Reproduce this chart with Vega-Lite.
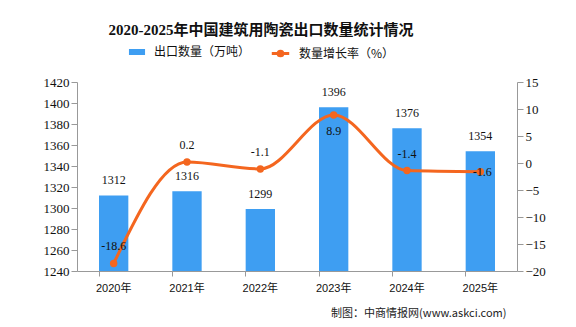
{
  "$schema": "https://vega.github.io/schema/vega-lite/v6.json",
  "width": 440,
  "height": 189,
  "autosize": {"type": "none"},
  "padding": {"left": 77, "top": 82, "right": 59, "bottom": 56},
  "background": "white",
  "config": {
    "view": {"stroke": null},
    "font": "Liberation Serif, Noto Sans CJK SC",
    "axis": {"grid": false, "domainColor": "#999999", "tickColor": "#999999", "labelColor": "#111111", "labelFont": "Liberation Serif, Noto Sans CJK SC"}
  },
  "title": {
    "text": "2020-2025年中国建筑用陶瓷出口数量统计情况",
    "font": "Liberation Serif, Noto Sans CJK SC",
    "fontSize": 15,
    "fontWeight": "bold",
    "color": "#111111",
    "anchor": "middle",
    "frame": "group",
    "dx": -36,
    "offset": 7
  },
  "data": {
    "values": [
      {"year": "2020年", "qty": 1312, "growth": -18.6},
      {"year": "2021年", "qty": 1316, "growth": 0.2},
      {"year": "2022年", "qty": 1299, "growth": -1.1},
      {"year": "2023年", "qty": 1396, "growth": 8.9},
      {"year": "2024年", "qty": 1376, "growth": -1.4},
      {"year": "2025年", "qty": 1354, "growth": -1.6}
    ]
  },
  "encoding": {
    "x": {
      "field": "year", "type": "nominal", "sort": null,
      "scale": {"paddingInner": 0.6, "paddingOuter": 0.3},
      "axis": {
        "labelAngle": 0, "labelFont": "Liberation Sans, Noto Sans CJK SC", "labelFontSize": 11,
        "labelPadding": 6, "tickSize": 5, "bandPosition": 0,
        "title": "制图：中商情报网(www.askci.com)",
        "titleFont": "Noto Sans CJK SC", "titleFontWeight": "normal", "titleFontSize": 11,
        "titleColor": "#222222", "titleAnchor": "end", "titleAlign": "right", "titlePadding": 14, "titleX": 429
      }
    }
  },
  "layer": [
    {
      "encoding": {
        "y": {
          "field": "qty", "type": "quantitative",
          "scale": {"domain": [1240, 1420], "zero": false, "nice": false},
          "axis": {"values": [1240,1260,1280,1300,1320,1340,1360,1380,1400,1420], "format": "d", "title": null, "labelFontSize": 13, "tickSize": 6, "labelPadding": 2}
        }
      },
      "layer": [
        {
          "mark": {"type": "bar", "clip": true},
          "encoding": {
            "fill": {
              "datum": "出口数量（万吨）",
              "scale": {"range": ["#3E9EF2"]},
              "legend": {
                "orient": "none", "legendX": 53, "legendY": -37, "title": null,
                "symbolType": "M-1.2,-0.45H1.2V0.45H-1.2Z", "symbolSize": 180, "symbolStrokeWidth": 0,
                "labelFont": "Noto Sans CJK SC", "labelFontSize": 12, "labelColor": "#111111", "labelOffset": 10
              }
            }
          }
        },
        {
          "mark": {"type": "text", "baseline": "bottom", "dy": -8, "fontSize": 12, "color": "#111111", "font": "Liberation Serif"},
          "encoding": {"text": {"field": "qty"}}
        }
      ]
    },
    {
      "encoding": {
        "y": {
          "field": "growth", "type": "quantitative",
          "scale": {"domain": [-20, 15], "nice": false, "zero": false},
          "axis": {"orient": "right", "values": [-20,-15,-10,-5,0,5,10,15], "title": null, "labelFontSize": 13, "tickSize": 6, "labelPadding": 2}
        }
      },
      "layer": [
        {
          "mark": {"type": "line", "interpolate": "monotone", "strokeWidth": 3, "color": "#F4661F"},
          "encoding": {
            "stroke": {
              "datum": "数量增长率（%）",
              "scale": {"range": ["#F4661F"]},
              "legend": {
                "orient": "none", "legendX": 195, "legendY": -37, "title": null,
                "symbolType": "M-1.3,0H1.3M-0.35,0A0.35,0.35 0 1,0 0.35,0A0.35,0.35 0 1,0 -0.35,0Z",
                "symbolSize": 180, "symbolStrokeWidth": 3, "symbolFillColor": "#F4661F",
                "labelFont": "Noto Sans CJK SC", "labelFontSize": 12, "labelColor": "#111111", "labelOffset": 10
              }
            }
          }
        },
        {
          "mark": {"type": "point", "filled": true, "size": 55, "color": "#F4661F", "opacity": 1}
        },
        {
          "transform": [{"filter": "datum.year !== '2023年' && datum.year !== '2025年'"}],
          "mark": {"type": "text", "baseline": "middle", "dy": -17, "fontSize": 12, "color": "#111111", "font": "Liberation Serif"},
          "encoding": {"text": {"field": "growth"}}
        },
        {
          "transform": [{"filter": "datum.year === '2023年'"}],
          "mark": {"type": "text", "baseline": "middle", "dy": 16, "fontSize": 12, "color": "#111111", "font": "Liberation Serif"},
          "encoding": {"text": {"field": "growth"}}
        },
        {
          "transform": [{"filter": "datum.year === '2025年'"}],
          "mark": {"type": "text", "baseline": "middle", "dy": 0, "dx": 2, "fontSize": 12, "color": "#111111", "font": "Liberation Serif"},
          "encoding": {"text": {"field": "growth"}}
        }
      ]
    }
  ],
  "resolve": {"scale": {"y": "independent"}}
}
